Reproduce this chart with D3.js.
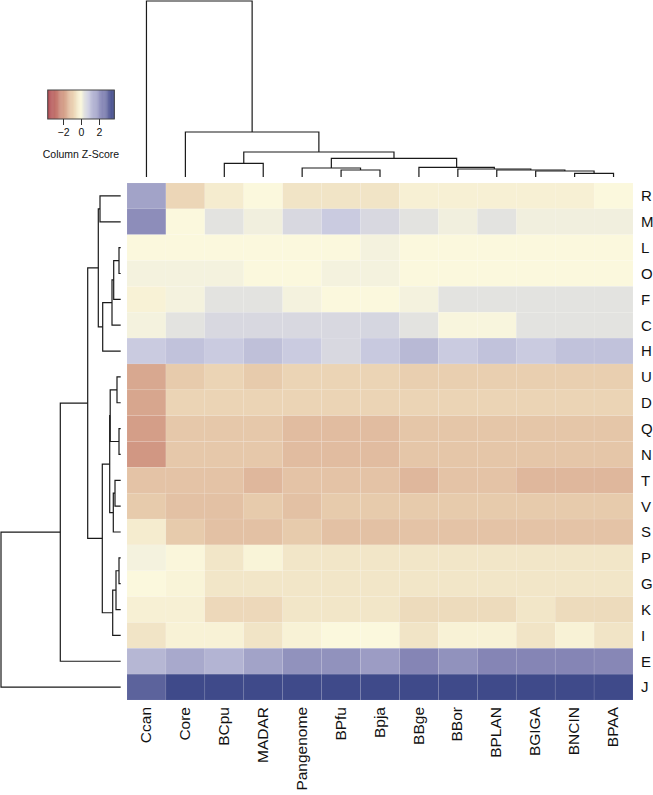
<!DOCTYPE html>
<html>
<head>
<meta charset="utf-8">
<script src="https://cdn.jsdelivr.net/npm/d3@7"></script>
<style>
  body { margin: 0; background: #fff; }
  text { font-family: "Liberation Sans", Arial, sans-serif; fill: #111; }
</style>
</head>
<body>
<svg id="chart"></svg>
<script>
// row / column labels in dendrogram order
const rowLabels = ["R","M","L","O","F","C","H","U","D","Q","N","T","V","S","P","G","K","I","E","J"];
const colLabels = ["Ccan","Core","BCpu","MADAR","Pangenome","BPfu","Bpja","BBge","BBor","BPLAN","BGIGA","BNCIN","BPAA"];

// column z-scores, one array per row
const zR = [1.8,-0.8,-0.3,0,-0.5,-0.5,-0.5,-0.2,-0.2,-0.2,-0.2,-0.2,0];
const zM = [2.3,0,0.35,0.15,0.6,0.9,0.6,0.35,0.15,0.35,0.15,0.15,0.15];
const zL = [0,0,0,0,0,0,0.1,0,0,0,0,0,0];
const zO = [0.1,0.1,0.1,0,0,0.1,0.1,0,0,0,0,0,0];
const zF = [-0.15,0.1,0.35,0.35,0.1,0,0,0.1,0.35,0.35,0.35,0.35,0.35];
const zC = [0.1,0.35,0.6,0.6,0.6,0.6,0.65,0.35,0.05,0.05,0.35,0.35,0.35];
const zH = [0.9,1.1,0.9,1.15,0.9,0.6,0.95,1.3,0.9,1.1,0.9,1.1,1.1];
const zU = [-1.75,-1.05,-0.85,-1.05,-0.85,-0.85,-0.85,-0.95,-0.95,-0.95,-0.95,-0.95,-0.95];
const zD = [-1.8,-0.85,-0.85,-0.85,-0.85,-0.85,-0.85,-0.85,-0.85,-0.85,-0.85,-0.85,-0.85];
const zQ = [-1.95,-1.1,-1.1,-1.1,-1.35,-1.35,-1.35,-1.15,-1.15,-1.15,-1.15,-1.15,-1.15];
const zN = [-2.1,-1.1,-1.1,-1.1,-1.35,-1.35,-1.35,-1.15,-1.15,-1.15,-1.15,-1.15,-1.15];
const zT = [-1.2,-1.2,-1.2,-1.45,-1.2,-1.2,-1.2,-1.45,-1.2,-1.2,-1.45,-1.45,-1.45];
const zV = [-1.05,-1.25,-1.25,-1.05,-1.25,-1.05,-1.05,-1.05,-1.05,-1.05,-1.05,-1.05,-1.05];
const zS = [-0.3,-1.05,-1.25,-1.25,-1.05,-1.25,-1.25,-1.2,-1.2,-1.2,-1.2,-1.2,-1.2];
const zP = [0.1,-0.05,-0.45,-0.1,-0.45,-0.45,-0.45,-0.45,-0.45,-0.45,-0.45,-0.45,-0.45];
const zG = [0,-0.1,-0.45,-0.45,-0.45,-0.45,-0.45,-0.45,-0.45,-0.45,-0.45,-0.45,-0.45];
const zK = [-0.2,-0.2,-0.75,-0.75,-0.45,-0.45,-0.45,-0.7,-0.7,-0.7,-0.45,-0.7,-0.7];
const zI = [-0.5,-0.15,-0.15,-0.5,-0.15,0,0,-0.5,-0.15,-0.15,-0.5,-0.15,-0.5];
const zE = [1.35,1.65,1.4,1.8,2.2,2.2,1.95,2.5,2.2,2.5,2.5,2.5,2.45];
const zJ = [3.2,3.7,3.7,3.7,3.7,3.7,3.7,3.7,3.7,3.7,3.7,3.7,3.7];
const values = [zR,zM,zL,zO,zF,zC,zH,zU,zD,zQ,zN,zT,zV,zS,zP,zG,zK,zI,zE,zJ];

// dendrograms: [left, right, height]
const rowTree = [[[[["R","M",20.7],[[[["L","O",1.7],"F",7],"C",8.7],"H",18],22.4],
  [[[["U","D",3.7],["Q","N",1.7],10.5],[["T","V",5.7],"S",7.4],11],[[["P","G",1.7],"K",4.7],"I",8],18.4],33],
  "E",60.4],"J",119.7];
const colTree = ["Ccan",["Core",[["BCpu","MADAR",13.7],
  [["Pangenome",["BPfu","Bpja",7],9],["BBge",["BBor",["BPLAN",["BGIGA",["BNCIN","BPAA",3.7],6],7],8],9.7],18.7],25],45],176];

// colour key
const keyStops = [-3.7,-2,-1,-0.45,0,0.35,0.9,1.65,2.5,3.7];
const keyColors = ["#b04a52","#d39c86","#e8cdae","#f2e6c8","#fbf8dd","#e3e3e0","#cacbe0","#a8a9cc","#8585b5","#3f4a8a"];
const keyTicks = [-2,0,2];

const W = 653, H = 795;
const svg = d3.select("#chart").attr("width", W).attr("height", H);

const x = d3.scaleBand().domain(colLabels).range([127, 633]);
const y = d3.scaleBand().domain(rowLabels).range([183, 700]);
const color = d3.scaleLinear().domain(keyStops).range(keyColors).clamp(true);

// cells
rowLabels.forEach((r, i) => {
  svg.append("g").selectAll("rect")
    .data(values[i])
    .enter().append("rect")
    .attr("x", (d, j) => x(colLabels[j]))
    .attr("y", y(r))
    .attr("width", x.bandwidth())
    .attr("height", y.bandwidth())
    .attr("fill", d => color(d))
    .attr("stroke", "#fff")
    .attr("stroke-opacity", 0.12)
    .attr("stroke-width", 0.6);
});

// labels
svg.append("g").selectAll("text")
  .data(rowLabels)
  .enter().append("text")
  .attr("x", 641)
  .attr("y", d => y(d) + y.bandwidth() / 2)
  .attr("dy", "0.36em")
  .style("font-size", "15px")
  .text(d => d);

svg.append("g").selectAll("text")
  .data(colLabels)
  .enter().append("text")
  .attr("transform", d => `translate(${x(d) + x.bandwidth() / 2 - 1},707) rotate(-90)`)
  .attr("text-anchor", "end")
  .attr("dy", "0.36em")
  .style("font-size", "15.5px")
  .text(d => d);

// dendrograms
const colH = d3.scaleLinear().domain([0, 176]).range([177, 1]);
const rowH = d3.scaleLinear().domain([0, 119.7]).range([120.7, 1]);
const dg = svg.append("g").attr("fill", "none").attr("stroke", "#1a1a1a").attr("stroke-width", 1.2);

function drawTree(node, pos, hs, vertical) {
  if (typeof node === "string") return { p: pos(node), h: 0 };
  const a = drawTree(node[0], pos, hs, vertical);
  const b = drawTree(node[1], pos, hs, vertical);
  const h = node[2];
  const pts = [[a.p, hs(a.h)], [a.p, hs(h)], [b.p, hs(h)], [b.p, hs(b.h)]];
  dg.append("path")
    .attr("d", d3.line()(vertical ? pts : pts.map(q => [q[1], q[0]])));
  return { p: (a.p + b.p) / 2, h: h };
}
drawTree(colTree, d => x(d) + x.bandwidth() / 2, colH, true);
drawTree(rowTree, d => y(d) + y.bandwidth() / 2, rowH, false);

// colour key
const kx = d3.scaleLinear().domain([-3.7, 3.7]).range([47.7, 114.3]);
const key = svg.append("g");
key.selectAll("rect")
  .data(d3.range(-3.7, 3.7, 0.1))
  .enter().append("rect")
  .attr("x", d => kx(d))
  .attr("y", 90)
  .attr("width", kx(0.1) - kx(0) + 0.4)
  .attr("height", 29)
  .attr("fill", d => color(d + 0.05));
key.append("rect")
  .attr("x", 47.7).attr("y", 90)
  .attr("width", 66.6).attr("height", 29)
  .attr("fill", "none").attr("stroke", "#444").attr("stroke-width", 1);
key.append("g")
  .attr("transform", "translate(0,119)")
  .call(d3.axisBottom(kx).tickValues(keyTicks).tickSize(6).tickPadding(4).tickFormat(d3.format("d")))
  .call(g => g.select(".domain").remove())
  .call(g => g.selectAll("line").attr("stroke", "#333"))
  .call(g => g.selectAll("text").style("font-size", "10.5px").attr("font-family", null));
key.append("text")
  .attr("x", 81).attr("y", 158)
  .attr("text-anchor", "middle")
  .style("font-size", "10.5px")
  .text("Column Z-Score");
</script>
</body>
</html>
